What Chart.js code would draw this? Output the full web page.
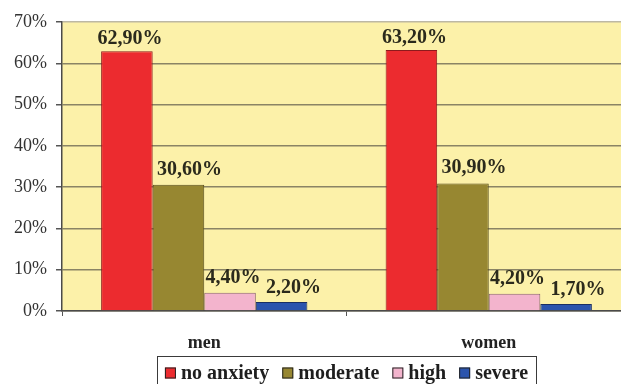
<!DOCTYPE html>
<html>
<head>
<meta charset="utf-8">
<script src="https://cdn.jsdelivr.net/npm/chart.js@4.4.1/dist/chart.umd.min.js"></script>
<style>
  html, body { margin: 0; padding: 0; background: #fff; overflow: hidden; }
  #wrap { width: 631px; height: 384px; }
</style>
</head>
<body>
<div id="wrap"><canvas id="chart" width="631" height="384"></canvas></div>
<script>
// Anxiety levels by sex (percent)
const groups = ['men', 'women'];
const levels = ['no anxiety', 'moderate', 'high', 'severe'];
const noAnxiety = [62.9, 63.2];
const moderate = [30.6, 30.9];
const high = [4.4, 4.2];
const severe = [2.2, 1.7];
const yTicks = [0, 10, 20, 30, 40, 50, 60, 70];

const fills = ['#ec2b2f', '#978731', '#f3b4cd', '#2b54ad'];
const edges = ['#8e1a1c', '#574d1c', '#8a6273', '#1a2f63'];
const serif = '"Liberation Serif", "DejaVu Serif", serif';

const fmt = v => v.toFixed(2).replace('.', ',') + '%';

// yellow plot background
const plotBg = {
  id: 'plotBg',
  beforeDraw(chart) {
    const { ctx, chartArea: a } = chart;
    ctx.save();
    ctx.fillStyle = '#fcf1a9';
    ctx.fillRect(a.left, a.top, a.right - a.left, a.bottom - a.top);
    ctx.restore();
  }
};

// value labels above each bar (nudged per series like the original layout)
const labelShiftX = [3, 11, 3, 12];
const labelLift = [7, 10, 10, 9];
const valueLabels = {
  id: 'valueLabels',
  afterDatasetsDraw(chart) {
    const { ctx } = chart;
    ctx.save();
    ctx.font = 'bold 20px ' + serif;
    ctx.fillStyle = '#2b2a1c';
    ctx.textAlign = 'center';
    ctx.textBaseline = 'alphabetic';
    chart.data.datasets.forEach((ds, i) => {
      chart.getDatasetMeta(i).data.forEach((bar, j) => {
        ctx.fillText(fmt(ds.data[j]), bar.x + labelShiftX[i], bar.y - labelLift[i]);
      });
    });
    ctx.restore();
  }
};

// boxed legend centred under the plot area
const boxedLegend = {
  id: 'boxedLegend',
  afterDraw(chart) {
    const { ctx, chartArea: a } = chart;
    const box = 11, gap = 5, spacing = 13, padX = 8;
    ctx.save();
    ctx.font = 'bold 20px ' + serif;
    const items = chart.data.datasets.map(ds => ({
      label: ds.label, fill: ds.backgroundColor, edge: ds.borderColor,
      w: ctx.measureText(ds.label).width
    }));
    const total = items.reduce((s, it) => s + box + gap + it.w, 0) + spacing * (items.length - 1);
    const cx = (a.left + a.right) / 2;
    const left = cx - total / 2 - padX;
    const top = 356;
    ctx.strokeStyle = '#3a3a3a';
    ctx.lineWidth = 1;
    ctx.strokeRect(Math.round(left) + 0.5, top + 0.5, Math.round(total + padX * 2), 40);
    let x = cx - total / 2;
    const cy = 373;
    ctx.textBaseline = 'middle';
    ctx.textAlign = 'left';
    items.forEach(it => {
      ctx.fillStyle = it.fill;
      ctx.fillRect(x, cy - box / 2, box, box);
      ctx.strokeStyle = '#222';
      ctx.strokeRect(x + 0.5, cy - box / 2 + 0.5, box - 1, box - 1);
      ctx.fillStyle = '#1e1e1e';
      ctx.fillText(it.label, x + box + gap, cy + 1);
      x += box + gap + it.w + spacing;
    });
    ctx.restore();
  }
};

const series = [noAnxiety, moderate, high, severe];

new Chart(document.getElementById('chart'), {
  type: 'bar',
  data: {
    labels: groups,
    datasets: levels.map((name, i) => ({
      label: name,
      data: series[i],
      backgroundColor: fills[i],
      borderColor: edges[i],
      borderWidth: 1,
      categoryPercentage: 0.725,
      barPercentage: 1
    }))
  },
  options: {
    responsive: false,
    animation: false,
    layout: { padding: { top: 22, right: 0, bottom: 0, left: 0 } },
    plugins: {
      legend: { display: false },
      tooltip: { enabled: false }
    },
    scales: {
      x: {
        offset: true,
        grid: {
          display: true,
          offset: true,
          drawOnChartArea: false,
          tickLength: 5,
          tickColor: '#555'
        },
        border: { color: '#4a4a4a', width: 1.5 },
        ticks: {
          padding: 17,
          color: '#222',
          font: { family: serif, size: 18, weight: 'bold' }
        },
        afterFit(scale) { scale.height = 73; }
      },
      y: {
        min: 0,
        max: 70,
        afterBuildTicks(scale) { scale.ticks = yTicks.map(v => ({ value: v })); },
        grid: {
          color: ctx => (ctx.tick && ctx.tick.value === 70 ? '#bdb8a4' : '#8a8465'),
          lineWidth: 1.5,
          tickLength: 6,
          tickColor: '#555'
        },
        border: { color: '#4a4a4a', width: 1.5 },
        ticks: {
          padding: 9,
          color: '#333',
          font: { family: serif, size: 18 },
          callback: v => v + '%'
        },
        afterFit(scale) { scale.width = 62; }
      }
    }
  },
  plugins: [plotBg, valueLabels, boxedLegend]
});
</script>
</body>
</html>
